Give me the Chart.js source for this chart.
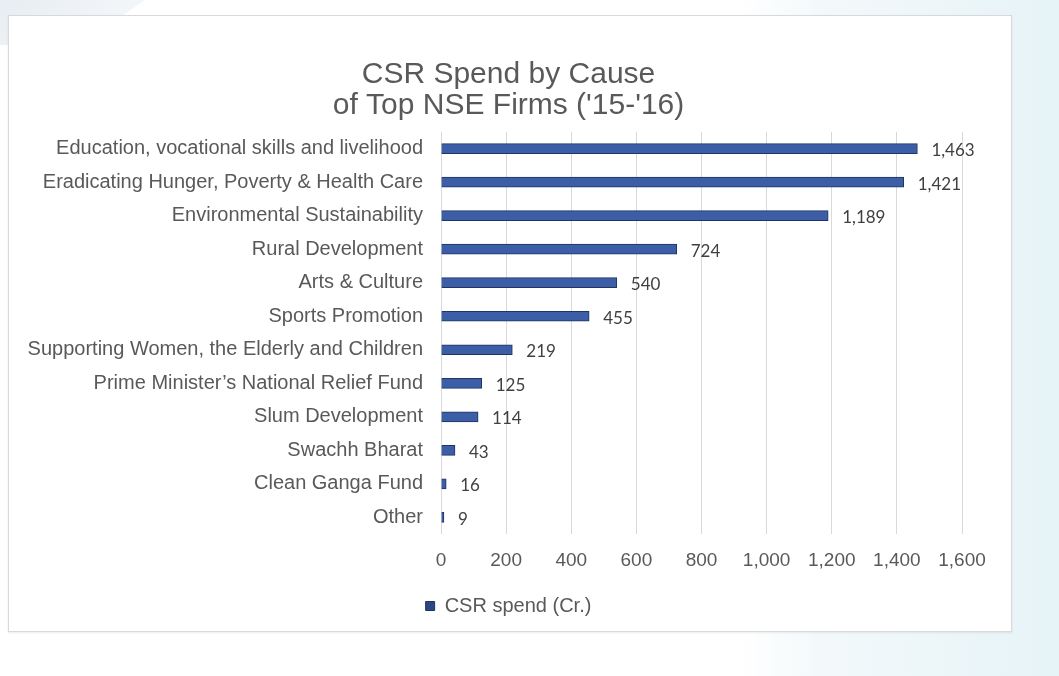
<!DOCTYPE html>
<html>
<head>
<meta charset="utf-8">
<script src="https://cdn.jsdelivr.net/npm/chart.js@4/dist/chart.umd.min.js"></script>
<style>
  html, body { margin: 0; padding: 0; }
  body {
    width: 1059px; height: 676px; overflow: hidden; position: relative;
    background: linear-gradient(90deg, #ffffff 0px, #ffffff 740px, #f3f9fb 820px, #e6f3f7 1059px);
  }
  .stripe {
    position: absolute; left: -40px; top: -10px; width: 160px; height: 55px;
    background: linear-gradient(90deg, #e6ecf2, #f3f6f9);
    transform: skewX(-55deg);
  }
  .card {
    position: absolute; left: 8px; top: 15px; width: 1004px; height: 617px;
    background: #ffffff; border: 1px solid #d9d9d9; box-sizing: border-box;
    box-shadow: 0 1px 2px rgba(0,0,0,0.08);
  }
</style>
</head>
<body>
<div class="stripe"></div>
<div class="card"><canvas id="myChart" width="1002" height="615"></canvas></div>
<script>
const causes = [
  'Education, vocational skills and livelihood',
  'Eradicating Hunger, Poverty & Health Care',
  'Environmental Sustainability',
  'Rural Development',
  'Arts & Culture',
  'Sports Promotion',
  'Supporting Women, the Elderly and Children',
  'Prime Minister\u2019s National Relief Fund',
  'Slum Development',
  'Swachh Bharat',
  'Clean Ganga Fund',
  'Other'
];
const spend = [1463, 1421, 1189, 724, 540, 455, 219, 125, 114, 43, 16, 9];
const seriesName = 'CSR spend (Cr.)';
const titleLines = ['CSR Spend by Cause', "of Top NSE Firms ('15-'16)"];

const grey = '#595959';
const sans = '"Liberation Sans", Arial, sans-serif';

// labels after each bar
const valueLabels = {
  id: 'valueLabels',
  afterDatasetsDraw(chart) {
    const ctx = chart.ctx;
    const meta = chart.getDatasetMeta(0);
    ctx.save();
    ctx.font = '17px Lato, "Open Sans", sans-serif';
    ctx.fillStyle = '#404040';
    ctx.textBaseline = 'middle';
    meta.data.forEach((bar, i) => {
      ctx.fillText(spend[i].toLocaleString('en-US'), bar.x + 14, bar.y + 2);
    });
    ctx.restore();
  }
};

const ctx = document.getElementById('myChart').getContext('2d');
function barFill(context) {
  const el = context.element;
  if (!el || el.y === undefined) return '#3b5ea6';
  const g = context.chart.ctx.createLinearGradient(0, el.y - 5, 0, el.y + 5);
  g.addColorStop(0, '#2a4784');
  g.addColorStop(0.5, '#4a72c0');
  g.addColorStop(1, '#2a4784');
  return g;
}

new Chart(ctx, {
  type: 'bar',
  data: {
    labels: causes,
    datasets: [{
      label: seriesName,
      data: spend,
      backgroundColor: barFill,
      borderColor: '#1f3560',
      borderWidth: 1,
      barThickness: 10
    }]
  },
  options: {
    indexAxis: 'y',
    responsive: false,
    animation: false,
    layout: { padding: { left: 14, right: 17, top: 43, bottom: 5 } },
    plugins: {
      title: {
        display: true,
        text: titleLines,
        color: grey,
        font: { family: sans, size: 30, weight: 'normal', lineHeight: 1.03 },
        padding: { top: 0, bottom: 11 }
      },
      legend: {
        position: 'bottom',
        labels: {
          color: grey,
          font: { family: sans, size: 20 },
          boxWidth: 9, boxHeight: 9,
          padding: 9,
          generateLabels: (chart) => [{
            text: seriesName, fillStyle: '#2a4784', strokeStyle: '#1f3560',
            lineWidth: 1, fontColor: grey, datasetIndex: 0
          }]
        }
      },
      tooltip: { enabled: false }
    },
    scales: {
      x: {
        min: 0, max: 1600,
        ticks: {
          stepSize: 200, color: grey, padding: 15,
          font: { family: sans, size: 19 },
          callback: (v) => v.toLocaleString('en-US')
        },
        grid: { color: '#d9d9d9', drawTicks: false },
        border: { display: false }
      },
      y: {
        afterFit: (s) => { s.width = 418; },
        ticks: {
          color: grey, padding: 18,
          font: { family: sans, size: 20 }
        },
        grid: { display: false, drawTicks: false },
        border: { display: false }
      },
      // empty right-hand gutter so the last tick label has room
      y2: {
        type: 'category',
        position: 'right',
        afterFit: (s) => { s.width = 32; },
        ticks: { display: false },
        grid: { display: false, drawTicks: false },
        border: { display: false }
      }
    }
  },
  plugins: [valueLabels]
});
</script>
</body>
</html>
